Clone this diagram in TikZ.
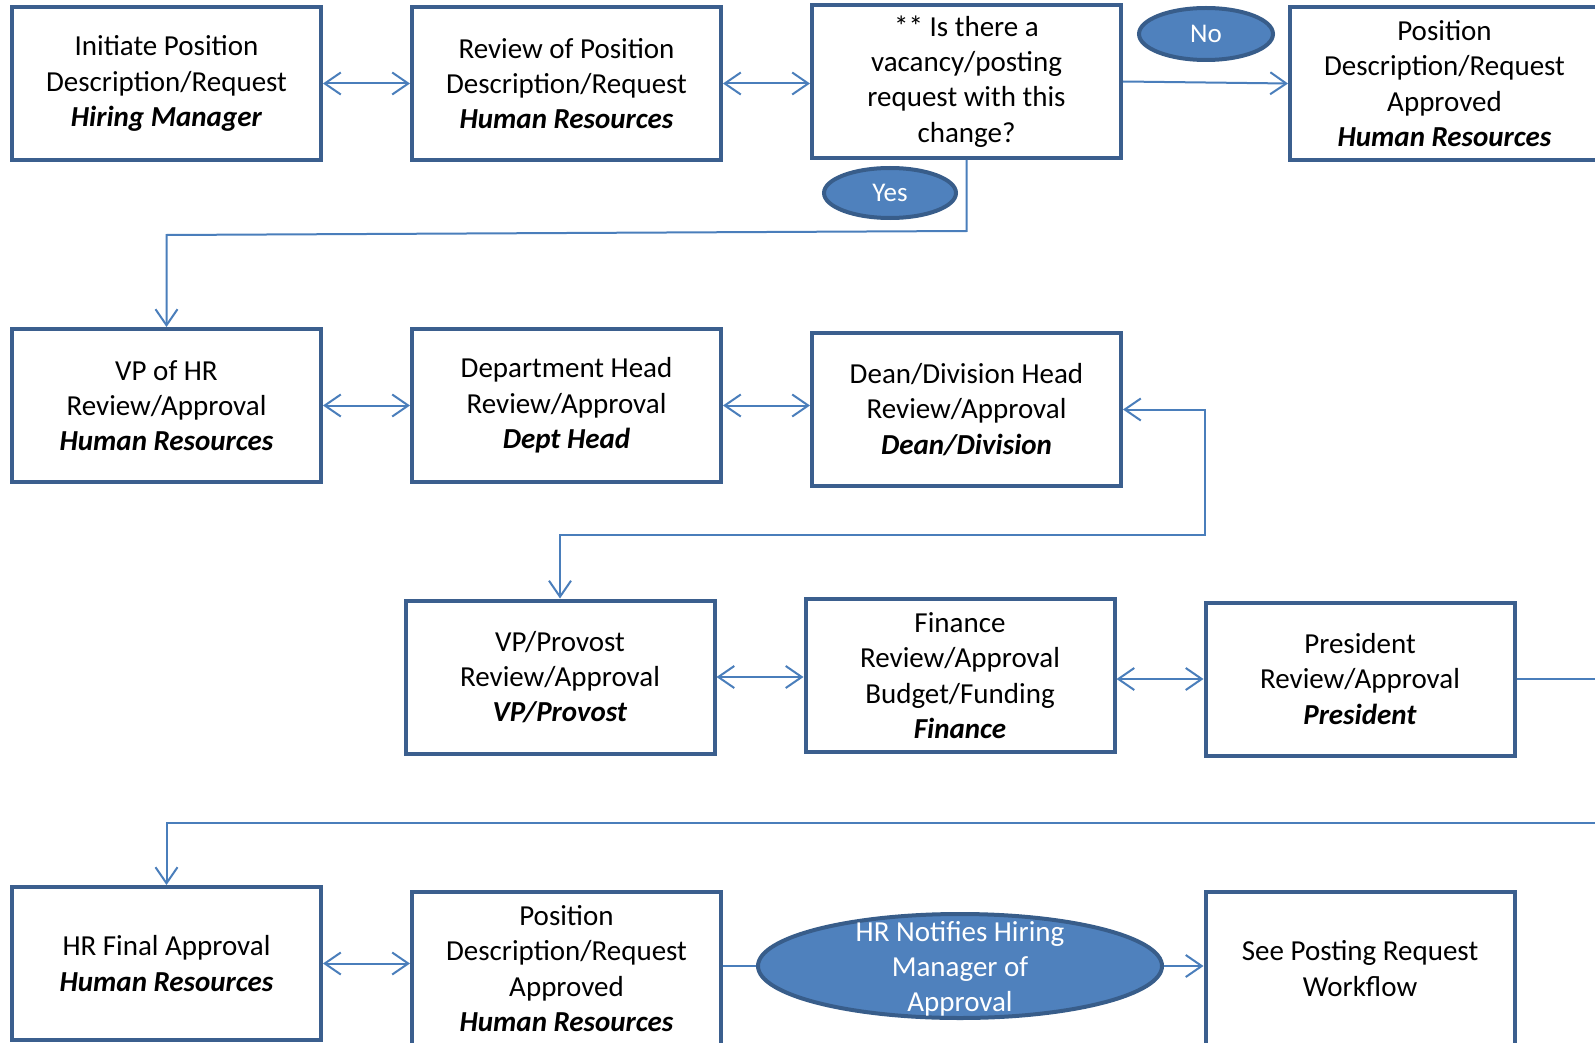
\documentclass[tikz,border=0pt]{standalone}
\usepackage{fontspec}
\setmainfont{Carlito}
\usetikzlibrary{arrows.meta,shapes.geometric}
\definecolor{boxblue}{HTML}{3B5F8E}
\definecolor{linkblue}{HTML}{4A7EBB}
\definecolor{fillblue}{HTML}{4F81BD}
\definecolor{rimblue}{HTML}{385D8A}
\tikzset{
  stepbox/.style={draw=boxblue, line width=4pt, rectangle, minimum width=309pt, minimum height=153pt, inner sep=0pt, align=center, font=\fontsize{29}{35.3}\selectfont, execute at begin node={\rule{0pt}{32pt}}},
  oval/.style={draw=rimblue, line width=4pt, fill=fillblue, ellipse, inner sep=0pt, text=white},
  link/.style={draw=linkblue, line width=2pt},
  tip/.style={-{Straight Barb[length=16pt,width=22pt]}},
  twotip/.style={{Straight Barb[length=16pt,width=22pt]}-{Straight Barb[length=16pt,width=22pt]}},
}
\newcommand{\who}[1]{\textbf{\textit{#1}}}
\begin{document}
\begin{tikzpicture}[x=1pt,y=-1pt]
\useasboundingbox (0,0) rectangle (1595,1043);
\clip (0,0) rectangle (1595,1043);
% row 1
\node[stepbox] (A) at (166.5,83.5) {Initiate Position\\Description/Request\\\who{Hiring Manager}};
\node[stepbox] (B) at (566.5,83.5) {Review of Position\\Description/Request\\\who{Human Resources}};
\node[stepbox] (C) at (966.5,81.5) {**~Is there a\\vacancy/posting\\request with this\\change?};
\node[stepbox] (D) at (1444.5,83.5) {Position\\Description/Request\\Approved\\\who{Human Resources}};
\node[oval, minimum width=134pt, minimum height=52pt, font=\fontsize{27}{32}\selectfont] (No) at (1206,34) {No};
\node[oval, minimum width=132pt, minimum height=50pt, font=\fontsize{27}{32}\selectfont] (Yes) at (890,193) {Yes};
% row 2
\node[stepbox] (E) at (166.5,405.5) {VP of HR\\Review/Approval\\\who{Human Resources}};
\node[stepbox] (F) at (566.5,405.5) {Department Head\\Review/Approval\\\who{Dept Head}};
\node[stepbox] (G) at (966.5,409.5) {Dean/Division Head\\Review/Approval\\\who{Dean/Division}};
% row 3
\node[stepbox] (H) at (560,677) {VP/Provost\\Review/Approval\\\who{VP/Provost}};
\node[stepbox] (I) at (960,675.5) {Finance\\Review/Approval\\Budget/Funding\\\who{Finance}};
\node[stepbox] (J) at (1360,679) {President\\Review/Approval\\\who{President}};
% row 4
\node[stepbox] (K) at (166.5,963.5) {HR Final Approval\\\who{Human Resources}};
\node[stepbox] (L) at (566.5,968.5) {Position\\Description/Request\\Approved\\\who{Human Resources}};
\node[stepbox] (N) at (1360,968.5) {See Posting Request\\Workflow};
\node[oval, minimum width=404pt, minimum height=104pt] (M) at (960,966) {};
\node[text=white, align=center, font=\fontsize{29}{35.3}\selectfont] (Mtext) at (960,969) {HR Notifies Hiring\\Manager of\\Approval};
% connectors row 1
\draw[link, twotip] (A.east) -- (B.west);
\draw[link, twotip] (B.east) -- (B.east -| C.west);
\draw[link, tip] (C.east) -- (D.west);
\coordinate (y1) at (966.5,231);
\coordinate (y2) at (166.5,235);
\draw[link, tip] (C.south) -- (y1) -- (y2) -- (E.north);
% row 2
\draw[link, twotip] (E.east) -- (E.east -| F.west);
\draw[link, twotip] (F.east) -- (F.east -| G.west);
\coordinate (g1) at (1205,409.5);
\coordinate (g2) at (1205,535);
\coordinate (g3) at (560,535);
\draw[link, twotip] (G.east) -- (g1) -- (g2) -- (g3) -- (H.north);
% row 3
\draw[link, twotip] (H.east) -- (H.east -| I.west);
\draw[link, twotip] (I.east |- J.west) -- (J.west);
\coordinate (j1) at (1600,679);
\draw[link] (J.east) -- (j1);
\coordinate (k1) at (1600,823);
\coordinate (k2) at (166.5,823);
\draw[link, tip] (k1) -- (k2) -- (K.north);
% row 4
\draw[link, twotip] (K.east) -- (K.east -| L.west);
\draw[link] (L.east |- M.west) -- (M.west);
\draw[link, tip] (M.east) -- (M.east -| N.west);
\end{tikzpicture}
\end{document}
